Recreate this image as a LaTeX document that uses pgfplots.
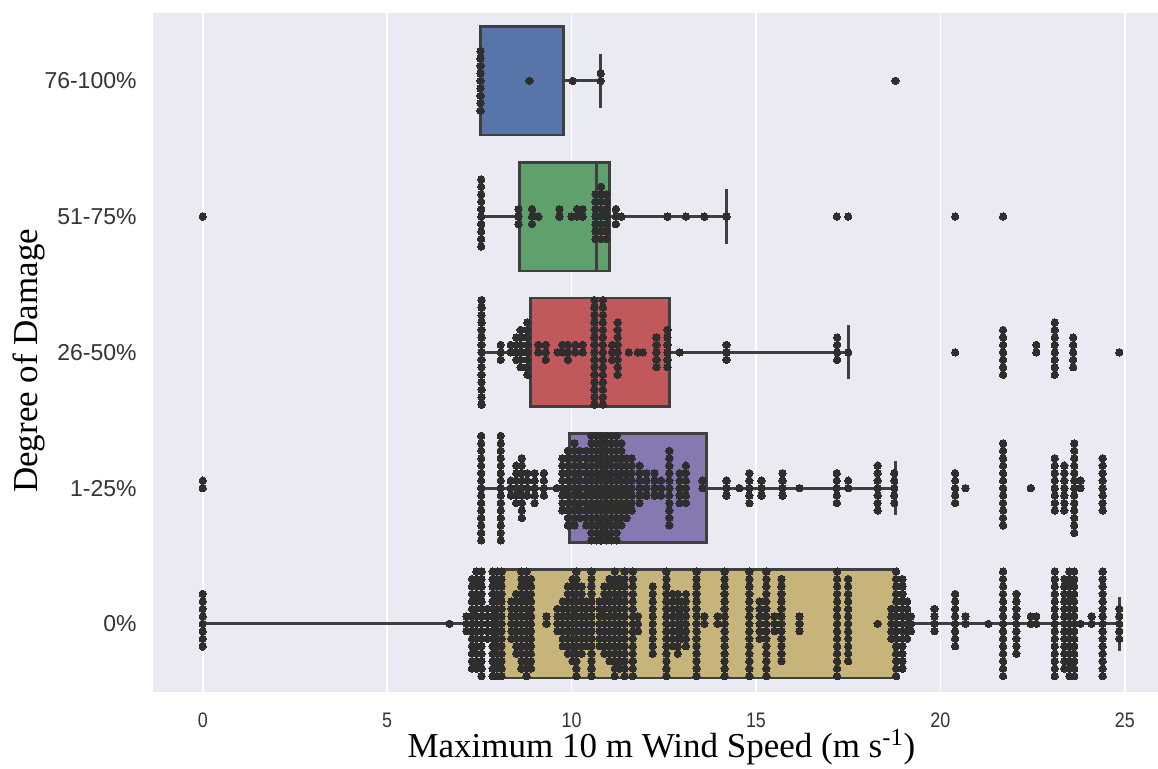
\documentclass[border=0pt]{standalone}
\usepackage{fontspec}
\setmainfont{Liberation Serif}
\newfontfamily\ticksans{Liberation Sans}
\newfontfamily\xticksans[FakeStretch=0.85]{Liberation Sans}
\usepackage{pgfplots}
\pgfplotsset{compat=1.18}
\usepgfplotslibrary{statistics}

\definecolor{bg}{HTML}{EAEAF2}
\definecolor{edge}{HTML}{3F3F3F}
\definecolor{dot}{HTML}{2E2E2E}
\definecolor{tick}{HTML}{333333}
\definecolor{cblue}{HTML}{5875A9}
\definecolor{cgreen}{HTML}{5FA06D}
\definecolor{cred}{HTML}{C0585C}
\definecolor{cpurple}{HTML}{8679B2}
\definecolor{cyellow}{HTML}{C6B47A}

% beeswarm: #1 = category, #2 = list of value/count (repeated values stacked)
\newcommand\swarm[2]{%
  \gdef\swarmpts{}%
  \foreach \sx/\sn in {#2}{%
    \foreach \k in {1,...,\sn}{%
      \pgfmathsetmacro\sy{#1+max(-0.4,min(0.4,floor(\k/2)*0.055*(1-2*mod(\k,2))))}%
      \xdef\swarmpts{\swarmpts (\sx,\sy)}%
    }%
  }%
  \edef\next{\noexpand\addplot[swarmpt] coordinates {\swarmpts};}\next
}

\begin{document}
\begin{tikzpicture}
\begin{axis}[
  scale only axis,
  width=502.75pt, height=339.5pt,
  xmin=-1.35, xmax=25.9,
  ymin=-0.5, ymax=4.5,
  axis background/.style={fill=bg},
  axis line style={draw=none},
  major tick length=0pt,
  xtick={0,5,...,25},
  ytick={0,1,2,3,4},
  yticklabels={0\%,1-25\%,26-50\%,51-75\%,76-100\%},
  xmajorgrids,
  grid style={white, line width=0.9pt},
  xticklabel style={font=\xticksans\fontsize{10.5}{12}\selectfont, text=tick, inner sep=0pt, yshift=-10.5pt},
  yticklabel style={font=\ticksans\fontsize{11.5}{13}\selectfont, text=tick, inner sep=0pt, xshift=-8pt},
  /pgf/number format/assume math mode=true,
  boxplot/draw direction=x,
  boxplot/box extend=0.8,
  boxplot/whisker extend=0.4,
  swarmpt/.style={only marks, mark=*, mark size=1.85pt, mark options={fill=dot, draw=dot, line width=0pt}},
  box/.style={draw=edge, line width=1.3pt,
    /pgfplots/boxplot/every whisker/.style={draw=edge, line width=1.5pt},
    /pgfplots/boxplot/every median/.style={draw=edge, line width=1.5pt}},
]
\addplot[box, fill=cblue, boxplot prepared={lower whisker=7.53, lower quartile=7.53, median=7.53,
  upper quartile=9.78, upper whisker=10.79, draw position=4}] coordinates {};
\addplot[box, fill=cgreen, boxplot prepared={lower whisker=7.55, lower quartile=8.59, median=10.67,
  upper quartile=11.03, upper whisker=14.2, draw position=3}] coordinates {};
\addplot[box, fill=cred, boxplot prepared={lower whisker=7.56, lower quartile=8.89, median=10.65,
  upper quartile=12.66, upper whisker=17.5, draw position=2}] coordinates {};
\addplot[box, fill=cpurple, boxplot prepared={lower whisker=7.55, lower quartile=9.95, median=10.9,
  upper quartile=13.66, upper whisker=18.78, draw position=1}] coordinates {};
\addplot[box, fill=cyellow, boxplot prepared={lower whisker=0, lower quartile=7.9, median=12.6,
  upper quartile=18.8, upper whisker=24.85, draw position=0}] coordinates {};

\swarm{4}{7.53/9, 8.86/1, 10.03/1, 10.79/2, 18.78/1}
\swarm{3}{0/1, 7.55/10, 8.56/3, 8.93/3, 9.1/1, 9.67/2, 10.0/1, 10.15/2, 10.3/2, 10.65/7, 10.8/8,
  10.95/7, 11.2/3, 11.35/1, 12.6/1, 13.1/1, 13.6/1, 14.2/1, 17.19/1, 17.5/1, 20.4/1, 21.7/1}
\swarm{2}{7.56/15, 8.08/3, 8.35/2, 8.5/4, 8.62/6, 8.8/8, 9.1/2, 9.3/3, 9.62/1, 9.75/2, 9.9/3,
  10.1/2, 10.3/2, 10.62/15, 10.85/15, 11.1/3, 11.25/8, 11.55/1, 11.8/1, 11.93/1, 12.3/5, 12.6/6,
  12.93/1, 14.2/3, 17.2/4, 17.5/1, 20.4/1, 21.7/7, 22.6/2, 23.1/8, 23.6/5, 24.85/1}
\swarm{1}{0/2, 7.55/15, 8.08/15, 8.35/3, 8.5/6, 8.65/9, 8.8/4, 9.0/5, 9.25/4, 9.6/1, 9.75/8,
  9.9/11, 10.08/12, 10.22/10, 10.4/11, 10.54/15, 10.68/15, 10.8/15, 10.95/15, 11.08/15, 11.22/15,
  11.35/12, 11.49/9, 11.63/8, 11.84/6, 12.03/4, 12.25/4, 12.43/3, 12.65/11, 12.93/5, 13.1/6,
  13.55/2, 14.2/3, 14.55/1, 14.82/5, 15.15/3, 15.72/4, 16.18/1, 17.19/5, 17.5/2, 18.3/7, 18.75/5,
  20.4/5, 20.68/1, 21.7/12, 22.45/1, 23.1/8, 23.36/7, 23.63/13, 23.8/2, 24.4/8}
\swarm{0}{0/8, 6.69/1, 7.15/3, 7.3/13, 7.42/14, 7.56/15, 7.72/5, 7.86/15, 7.98/15, 8.1/15,
  8.37/6, 8.5/9, 8.64/14, 8.78/15, 8.9/13, 9.32/2, 9.62/4, 9.76/7, 9.9/10, 10.03/12, 10.13/15,
  10.27/10, 10.4/7, 10.54/15, 10.76/7, 10.89/10, 11.03/12, 11.17/15, 11.3/13, 11.44/15, 11.66/15,
  11.8/3, 12.2/10, 12.57/15, 12.74/8, 12.88/9, 12.98/6, 13.1/8, 13.39/15, 13.6/2, 13.96/2,
  14.15/15, 14.82/15, 15.1/6, 15.28/15, 15.5/3, 15.69/12, 16.18/3, 17.2/15, 17.5/12, 18.3/1,
  18.67/5, 18.8/15, 18.97/13, 19.1/6, 19.2/3, 19.84/4, 20.4/8, 20.68/2, 21.3/1, 21.7/15, 22.06/9,
  22.45/2, 22.6/2, 23.1/15, 23.36/13, 23.5/15, 23.63/15, 23.8/1, 24.1/2, 24.4/15, 24.85/5}

\coordinate (SW) at (rel axis cs:0,0);
\coordinate (NE) at (rel axis cs:1,1);
\coordinate (XL) at (rel axis cs:0.506,0);
\coordinate (YL) at (rel axis cs:0,0.4875);
\end{axis}
\node[anchor=base, font=\fontsize{17.5}{20}\selectfont] at ([yshift=-33pt]XL)
  {Maximum 10 m Wind Speed (m s\textsuperscript{-1})};
\node[anchor=base, rotate=90, font=\fontsize{17.5}{20}\selectfont] at ([xshift=-57.5pt]YL)
  {Degree of Damage};
\pgfresetboundingbox
\path ([xshift=-76.5pt, yshift=-38.5pt]SW) rectangle ([yshift=6.5pt]NE);
\end{tikzpicture}
\end{document}
